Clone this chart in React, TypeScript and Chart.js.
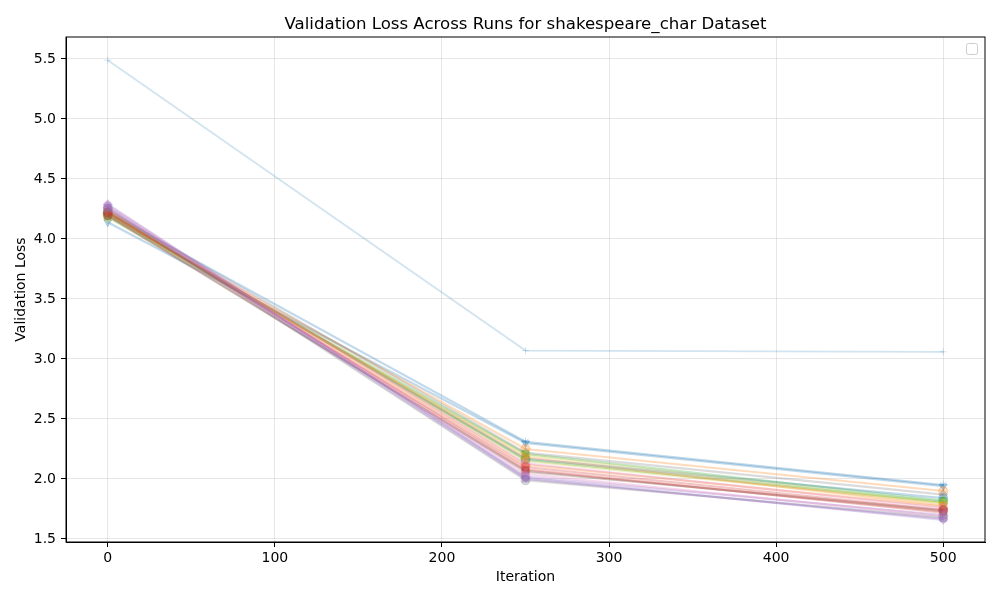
import React, { useEffect, useRef } from 'react';
import { Chart, registerables } from 'chart.js';

Chart.register(...registerables);

// iterations at which validation loss was recorded
const iterations = [0, 250, 500];

// one entry per run: loss at iteration 0, 250, 500
const runLosses = [
  [5.49, 3.07, 3.06],
  [4.22, 2.31, 1.95],
  [4.14, 2.30, 1.94],
  [4.2, 2.25, 1.9],
  [4.24, 2.22, 1.87],
  [4.21, 2.17, 1.84],
  [4.19, 2.21, 1.82],
  [4.22, 2.16, 1.81],
  [4.18, 2.2, 1.8],
  [4.22, 2.15, 1.8],
  [4.21, 2.18, 1.78],
  [4.24, 2.12, 1.77],
  [4.25, 2.13, 1.76],
  [4.2, 2.06, 1.74],
  [4.22, 2.1, 1.74],
  [4.19, 2.07, 1.73],
  [4.23, 2.08, 1.72],
  [4.27, 2.02, 1.7],
  [4.28, 2.04, 1.69],
  [4.25, 1.99, 1.68],
  [4.26, 2.0, 1.67],
  [4.29, 2.01, 1.66],
];

const runColors = [
  '#1f77b4', '#1f77b4', '#1f77b4', '#ff7f0e', '#7f7f7f', '#1f77b4', '#2ca02c', '#2ca02c', '#bcbd22', '#bcbd22', '#ff7f0e',
  '#ff7f0e', '#e377c2', '#8c564b', '#d62728', '#8c564b', '#d62728', '#9467bd', '#e377c2', '#7f7f7f', '#9467bd', '#9467bd',
];

const runMarkers = [
  'cross', 'star', 'v', 'circle', 'rectRot', 'circle', 'rect', 'circle', 'circle', 'triangle', 'rect',
  'triangle', 'circle', 'circle', 'circle', 'rect', 'rect', 'circle', 'triangle', 'circle', 'rect', 'rectRot',
];

const xTicks = [0, 100, 200, 300, 400, 500];
const yTicks = [1.5, 2.0, 2.5, 3.0, 3.5, 4.0, 4.5, 5.0, 5.5];

const FONT = 'DejaVu Sans';

function hexAlpha(hex: string, a: number) {
  const n = parseInt(hex.slice(1), 16);
  return `rgba(${(n >> 16) & 255}, ${(n >> 8) & 255}, ${n & 255}, ${a})`;
}

// title, full box frame and the empty legend box, drawn like matplotlib
const framePlugin = {
  id: 'frame',
  afterDraw(chart: any) {
    const { ctx, chartArea } = chart;
    ctx.save();
    ctx.strokeStyle = '#000';
    ctx.lineWidth = 1;
    ctx.strokeRect(chartArea.left, chartArea.top, chartArea.right - chartArea.left, chartArea.bottom - chartArea.top);

    // empty legend
    ctx.strokeStyle = 'rgba(204,204,204,1)';
    ctx.fillStyle = 'rgba(255,255,255,0.8)';
    ctx.beginPath();
    ctx.roundRect(chartArea.right - 18.5, chartArea.top + 6.5, 11, 11, 2);
    ctx.fill();
    ctx.stroke();

    ctx.fillStyle = '#000';
    ctx.font = `16.6px "${FONT}"`;
    ctx.textAlign = 'center';
    ctx.textBaseline = 'alphabetic';
    ctx.fillText('Validation Loss Across Runs for shakespeare_char Dataset', (chartArea.left + chartArea.right) / 2, 29);
    ctx.restore();
  },
};

function App() {
  const canvasRef = useRef<HTMLCanvasElement>(null);

  useEffect(() => {
    document.body.style.margin = '0';
    if (!canvasRef.current) return;

    const datasets = runLosses.map((losses, i) => {
      const isOutlier = i === 0;
      const marker = runMarkers[i];
      const alpha = isOutlier ? 0.2 : 0.28;
      return {
        label: `_run${i}`,
        data: iterations.map((it, j) => ({ x: it, y: losses[j] })),
        borderColor: hexAlpha(runColors[i], alpha),
        backgroundColor: hexAlpha(runColors[i], alpha),
        pointBorderColor: hexAlpha(runColors[i], alpha),
        pointBackgroundColor: hexAlpha(runColors[i], alpha),
        borderWidth: isOutlier ? 1.8 : 2.2,
        pointStyle: marker === 'v' ? 'triangle' : marker,
        rotation: marker === 'v' ? 180 : 0,
        pointRadius: isOutlier ? 3.5 : 4.5,
        pointBorderWidth: 1,
        order: runLosses.length - i,
      };
    });

    const chart = new Chart(canvasRef.current, {
      type: 'line',
      data: { datasets },
      options: {
        animation: false,
        responsive: true,
        maintainAspectRatio: false,
        layout: { padding: { top: 37, right: 15, left: 0, bottom: 0 } },
        plugins: {
          legend: { display: false },
          tooltip: { enabled: false },
          title: { display: false },
        },
        scales: {
          x: {
            type: 'linear',
            min: -25,
            max: 525,
            afterBuildTicks: (s: any) => {
              s.ticks = xTicks.map((v) => ({ value: v }));
            },
            afterFit: (s: any) => {
              s.height = 58;
            },
            border: { color: '#000', width: 1 },
            grid: { color: 'rgba(176,176,176,0.3)', tickColor: '#000', tickLength: 5, lineWidth: 1 },
            ticks: { color: '#000', font: { family: FONT, size: 14 }, padding: 3, maxRotation: 0 },
            title: { display: true, text: 'Iteration', color: '#000', font: { family: FONT, size: 14 }, padding: { top: 0, bottom: 14 } },
          },
          y: {
            type: 'linear',
            min: 1.475,
            max: 5.683,
            afterBuildTicks: (s: any) => {
              s.ticks = yTicks.map((v) => ({ value: v }));
            },
            afterFit: (s: any) => {
              s.width = 66;
            },
            border: { color: '#000', width: 1 },
            grid: { color: 'rgba(176,176,176,0.3)', tickColor: '#000', tickLength: 5, lineWidth: 1 },
            ticks: { color: '#000', font: { family: FONT, size: 14 }, padding: 5, callback: (v: any) => Number(v).toFixed(1) },
            title: { display: true, text: 'Validation Loss', color: '#000', font: { family: FONT, size: 14 }, padding: { top: 12.5, bottom: 0 } },
          },
        },
      },
      plugins: [framePlugin],
    });

    return () => {
      chart.destroy();
    };
  }, []);

  return (
    <div style={{ width: 1000, height: 600, position: 'relative', background: '#fff' }}>
      <canvas ref={canvasRef}></canvas>
    </div>
  );
}

export default App;
